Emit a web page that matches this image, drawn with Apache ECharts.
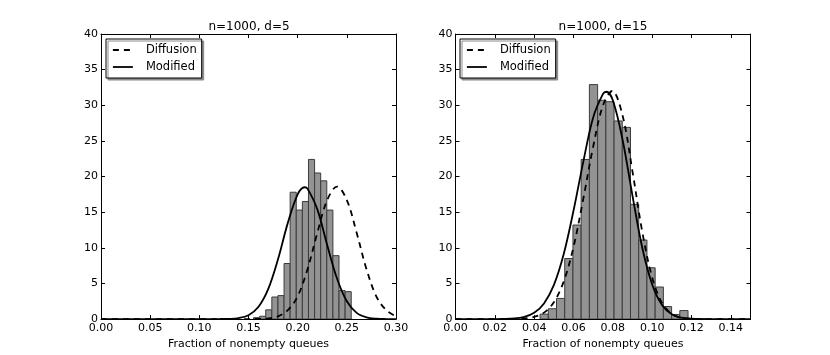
<!DOCTYPE html>
<html>
<head>
<meta charset="utf-8">
<script src="https://cdn.jsdelivr.net/npm/echarts@6/dist/echarts.min.js"></script>
<style>
  html, body { margin: 0; padding: 0; background: #fff; }
  #chart { width: 830px; height: 355px; }
</style>
</head>
<body>
<div id="chart"></div>
<script>
// histogram n=1000, d=5 (left panel)
const leftBinStart = 0.1551;
const leftBinWidth = 0.00621;
const leftHeights = [0.2, 0.4, 1.3, 3.1, 3.3, 7.8, 17.8, 15.3, 16.5, 22.4, 20.5, 19.4, 15.3, 8.9, 4.0, 3.85];

// histogram n=1000, d=15 (right panel)
const rightBinStart = 0.043;
const rightBinWidth = 0.00418;
const rightHeights = [0.7, 1.45, 2.9, 8.5, 13.2, 22.4, 32.9, 30.7, 30.5, 27.8, 26.9, 16.1, 11.1, 7.2, 4.5, 1.76, 0.65, 1.2];

// curves (x, density)
const leftX = [0.00, 0.10, 0.12, 0.13, 0.14, 0.15, 0.16, 0.17, 0.18, 0.19, 0.20, 0.207, 0.21, 0.22, 0.23, 0.24, 0.25, 0.26, 0.27, 0.28, 0.29, 0.30];
const leftModified = [0, 0, 0.01, 0.03, 0.14, 0.55, 1.69, 4.2, 8.4, 13.5, 17.5, 18.5, 18.3, 15.4, 10.4, 5.7, 2.5, 0.88, 0.25, 0.06, 0.01, 0];
const leftDiffX = [0.00, 0.14, 0.16, 0.17, 0.18, 0.19, 0.20, 0.21, 0.22, 0.23, 0.24, 0.25, 0.26, 0.27, 0.28, 0.29, 0.30];
const leftDiffusion = [0, 0, 0.02, 0.09, 0.38, 1.25, 3.2, 7.0, 12.1, 16.7, 18.6, 16.7, 12.1, 7.0, 3.2, 1.25, 0.38];

const rightModX = [0.00, 0.02, 0.03, 0.035, 0.04, 0.045, 0.05, 0.055, 0.06, 0.065, 0.07, 0.075, 0.0767, 0.08, 0.085, 0.09, 0.095, 0.10, 0.105, 0.11, 0.115, 0.12, 0.13, 0.15];
const rightModified = [0, 0.01, 0.1, 0.31, 0.88, 2.2, 4.77, 9.1, 15.2, 22.1, 28.3, 31.6, 31.9, 30.7, 25.1, 17.3, 9.97, 4.86, 1.98, 0.68, 0.2, 0.05, 0, 0];
const rightDiffX = [0.00, 0.03, 0.035, 0.04, 0.045, 0.05, 0.055, 0.06, 0.065, 0.07, 0.075, 0.0797, 0.085, 0.09, 0.095, 0.10, 0.105, 0.11, 0.115, 0.12, 0.13, 0.15];
const rightDiffusion = [0, 0.02, 0.09, 0.30, 0.91, 2.35, 5.26, 10.1, 16.9, 24.2, 30.0, 32.0, 28.5, 20.7, 12.2, 5.84, 2.27, 0.72, 0.19, 0.04, 0, 0];

const yTicks = [0, 5, 10, 15, 20, 25, 30, 35, 40];

const font = 'DejaVu Sans';
const chart = echarts.init(document.getElementById('chart'));

function pairs(xs, ys) {
    return xs.map((x, i) => [x, ys[i]]);
}

function bins(start, width, hs) {
    return hs.map((h, i) => [start + i * width, h, width]);
}

function histSeries(data, xi, yi) {
    return {
        type: 'custom',
        xAxisIndex: xi,
        yAxisIndex: yi,
        clip: true,
        silent: true,
        encode: { x: 0, y: 1 },
        data: data,
        renderItem(params, api) {
            const x0 = api.value(0);
            const w = api.value(2);
            const p0 = api.coord([x0, api.value(1)]);
            const p1 = api.coord([x0 + w, 0]);
            return {
                type: 'rect',
                shape: { x: p0[0], y: p0[1], width: p1[0] - p0[0], height: p1[1] - p0[1] },
                style: { fill: '#939393', stroke: '#3c3c3c', lineWidth: 1 }
            };
        }
    };
}

function lineSeries(name, data, xi, yi, dashed) {
    return {
        name: name,
        type: 'line',
        xAxisIndex: xi,
        yAxisIndex: yi,
        data: data,
        symbol: 'none',
        smooth: 0.35,
        silent: true,
        z: 5,
        lineStyle: { color: '#000', width: 1.8, type: dashed ? [6, 5] : 'solid' },
        itemStyle: { color: '#000' }
    };
}

function xAxisPair(gi, max, interval) {
    const base = {
        type: 'value',
        gridIndex: gi,
        min: 0,
        max: max,
        interval: interval,
        axisLine: { onZero: false, lineStyle: { color: '#000', width: 1 } },
        axisTick: { inside: true, length: 4, lineStyle: { color: '#000' } },
        splitLine: { show: false }
    };
    return [
        Object.assign({}, base, {
            position: 'bottom',
            name: 'Fraction of nonempty queues',
            nameLocation: 'middle',
            nameGap: 11,
            nameTextStyle: { fontFamily: font, fontSize: 11, color: '#000' },
            axisLabel: {
                fontFamily: font, fontSize: 11, color: '#000', margin: 4,
                showMaxLabel: max === 0.3,
                formatter: v => v.toFixed(2)
            }
        }),
        Object.assign({}, base, { position: 'top', axisLabel: { show: false } })
    ];
}

function yAxisPair(gi) {
    const base = {
        type: 'value',
        gridIndex: gi,
        min: yTicks[0],
        max: yTicks[yTicks.length - 1],
        interval: yTicks[1] - yTicks[0],
        axisLine: { show: true, onZero: false, lineStyle: { color: '#000', width: 1 } },
        axisTick: { show: true, inside: true, length: 4, lineStyle: { color: '#000' } },
        splitLine: { show: false }
    };
    return [
        Object.assign({}, base, {
            position: 'left',
            axisLabel: { fontFamily: font, fontSize: 11, color: '#000', margin: 3 }
        }),
        Object.assign({}, base, { position: 'right', axisLabel: { show: false } })
    ];
}

function legendAt(left) {
    return {
        left: left,
        top: 39,
        orient: 'vertical',
        data: ['Diffusion', 'Modified'],
        itemWidth: 20,
        itemHeight: 12,
        itemGap: 5,
        padding: [5, 5, 5, 6],
        selectedMode: false,
        backgroundColor: '#fff',
        borderColor: '#000',
        borderWidth: 1,
        borderRadius: 0,
        shadowColor: '#8a8a8a',
        shadowBlur: 0,
        shadowOffsetX: 2,
        shadowOffsetY: 2,
        itemStyle: { opacity: 0 },
        lineStyle: { width: 1.8 },
        textStyle: { fontFamily: font, fontSize: 11.5, color: '#000', padding: [0, 0, 0, 8] }
    };
}

chart.setOption({
    animation: false,
    backgroundColor: '#fff',
    title: [
        { text: 'n=1000, d=5', left: 249, top: 21, padding: 0, textAlign: 'center',
          textStyle: { fontFamily: font, fontSize: 12, fontWeight: 'normal', color: '#000' } },
        { text: 'n=1000, d=15', left: 603, top: 21, padding: 0, textAlign: 'center',
          textStyle: { fontFamily: font, fontSize: 12, fontWeight: 'normal', color: '#000' } }
    ],
    legend: [legendAt(106), legendAt(460)],
    grid: [
        { left: 101, top: 34, width: 295, height: 288 },
        { left: 455.5, top: 34, width: 295, height: 288 }
    ],
    xAxis: xAxisPair(0, 0.3, 0.05).concat(xAxisPair(1, 0.15, 0.02)),
    yAxis: yAxisPair(0).concat(yAxisPair(1)),
    series: [
        histSeries(bins(leftBinStart, leftBinWidth, leftHeights), 0, 0),
        lineSeries('Diffusion', pairs(leftDiffX, leftDiffusion), 0, 0, true),
        lineSeries('Modified', pairs(leftX, leftModified), 0, 0, false),
        histSeries(bins(rightBinStart, rightBinWidth, rightHeights), 2, 2),
        lineSeries('Diffusion', pairs(rightDiffX, rightDiffusion), 2, 2, true),
        lineSeries('Modified', pairs(rightModX, rightModified), 2, 2, false)
    ]
});
</script>
</body>
</html>
